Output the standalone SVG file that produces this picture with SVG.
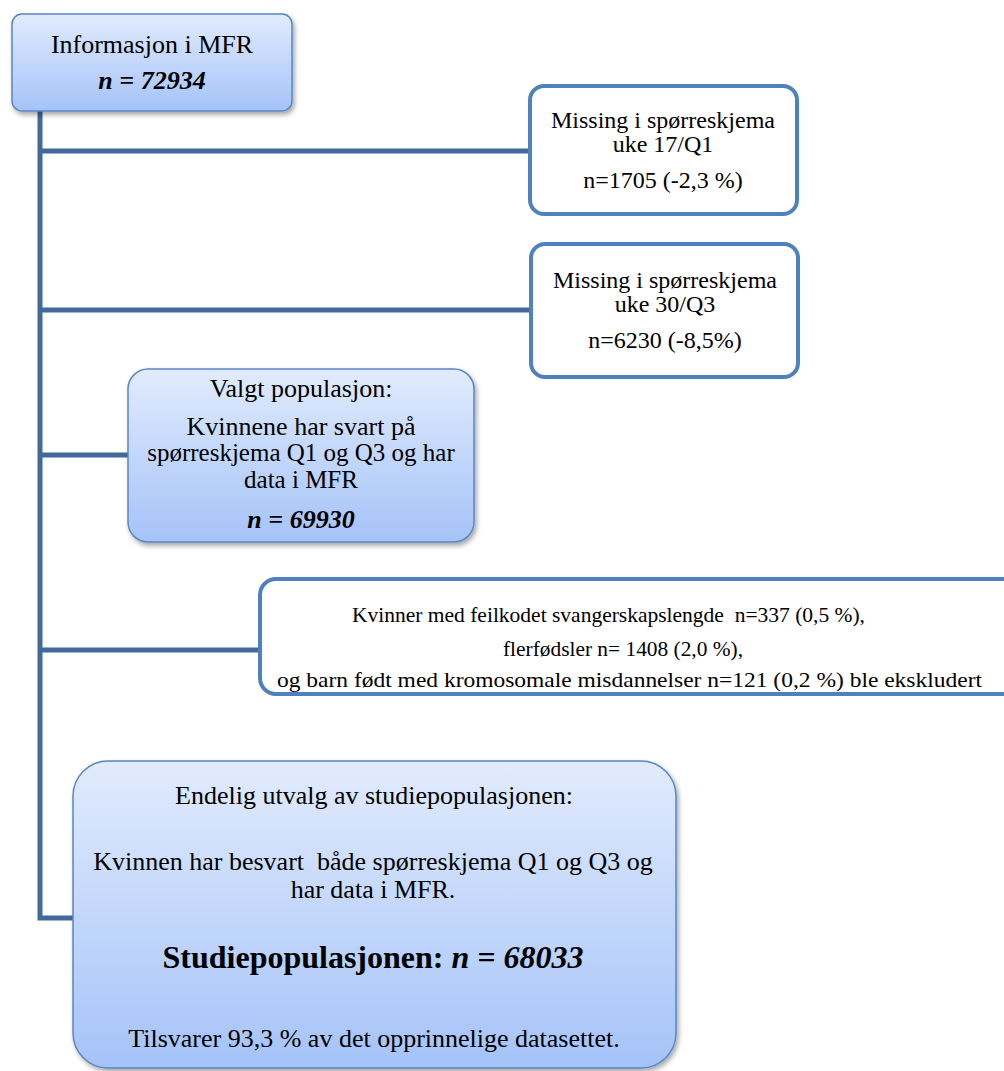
<svg xmlns="http://www.w3.org/2000/svg" width="1004" height="1071" viewBox="0 0 1004 1071">
<defs>
<linearGradient id="blueGrad" x1="0" y1="0" x2="0" y2="1">
<stop offset="0" stop-color="#e1ebfd"/>
<stop offset="1" stop-color="#a5c3f8"/>
</linearGradient>
<filter id="shadow" x="-10%" y="-10%" width="125%" height="125%">
<feDropShadow dx="2" dy="3" stdDeviation="2.5" flood-color="#000" flood-opacity="0.35"/>
</filter>
<style>
.grad { fill: url(#blueGrad); stroke: #5a87c2; stroke-width: 1.5; filter: url(#shadow); }
.plain { fill: #ffffff; stroke: #4f81bd; stroke-width: 4; }
.conn { fill: none; stroke: #43689b; stroke-width: 5; }
text { font-family: "Liberation Serif", "Times New Roman", serif; fill: #000; }
.c { text-anchor: middle; }
.bi { font-weight: bold; font-style: italic; }
.b { font-weight: bold; }
</style>
</defs>
<rect width="1004" height="1071" fill="#ffffff"/>

<g id="connectors">
<path class="conn" d="M40,111 V918 H75"/>
<line class="conn" x1="40" y1="151" x2="530" y2="151"/>
<line class="conn" x1="40" y1="310" x2="530" y2="310"/>
<line class="conn" x1="40" y1="455" x2="128" y2="455"/>
<line class="conn" x1="40" y1="650" x2="260" y2="650"/>
</g>

<g id="node-mfr">
<rect class="grad" x="12" y="14" width="280" height="97" rx="10"/>
<text class="c" x="152" y="53" font-size="26">Informasjon i MFR</text>
<text class="c bi" x="152" y="89" font-size="26">n = 72934</text>
</g>

<g id="node-missing-q1">
<rect class="plain" x="530" y="86" width="267" height="128" rx="14"/>
<text class="c" x="663" y="128" font-size="24">Missing i spørreskjema</text>
<text class="c" x="663" y="152" font-size="24">uke 17/Q1</text>
<text class="c" x="663" y="188" font-size="24">n=1705 (-2,3 %)</text>
</g>

<g id="node-missing-q3">
<rect class="plain" x="531" y="244" width="267" height="133" rx="14"/>
<text class="c" x="665" y="288" font-size="24">Missing i spørreskjema</text>
<text class="c" x="665" y="312" font-size="24">uke 30/Q3</text>
<text class="c" x="665" y="348" font-size="24">n=6230 (-8,5%)</text>
</g>

<g id="node-valgt">
<rect class="grad" x="128" y="369" width="346" height="173" rx="20"/>
<text class="c" x="301" y="397" font-size="26">Valgt populasjon:</text>
<text class="c" x="301" y="435" font-size="26">Kvinnene har svart på</text>
<text class="c" x="301" y="461" font-size="25">spørreskjema Q1 og Q3 og har</text>
<text class="c" x="301" y="488" font-size="25">data i MFR</text>
<text class="c bi" x="301" y="528" font-size="26">n = 69930</text>
</g>

<g id="node-ekskludert">
<rect class="plain" x="260" y="579" width="780" height="115" rx="16"/>
<text x="352" y="622" font-size="22" xml:space="preserve" textLength="513" lengthAdjust="spacingAndGlyphs">Kvinner med feilkodet svangerskapslengde  n=337 (0,5 %),</text>
<text x="503" y="656" font-size="22" textLength="240" lengthAdjust="spacingAndGlyphs">flerfødsler n= 1408 (2,0 %),</text>
<text x="277" y="687" font-size="22" textLength="705" lengthAdjust="spacingAndGlyphs">og barn født med kromosomale misdannelser n=121 (0,2 %) ble ekskludert</text>
</g>

<g id="node-studiepopulasjon">
<rect class="grad" x="73" y="761" width="603" height="307" rx="35"/>
<text class="c" x="374" y="804" font-size="26">Endelig utvalg av studiepopulasjonen:</text>
<text class="c" x="373" y="870" font-size="26" xml:space="preserve">Kvinnen har besvart  både spørreskjema Q1 og Q3 og</text>
<text class="c" x="373" y="898" font-size="26">har data i MFR.</text>
<text class="c b" x="373" y="968" font-size="32">Studiepopulasjonen: <tspan font-style="italic">n = 68033</tspan></text>
<text class="c" x="374" y="1047" font-size="26">Tilsvarer 93,3 % av det opprinnelige datasettet.</text>
</g>
</svg>
